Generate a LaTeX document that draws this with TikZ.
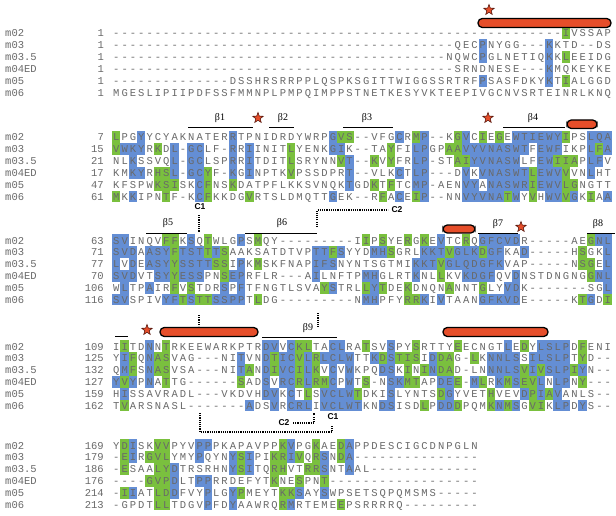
\documentclass[tikz,border=0pt]{standalone}
\usepackage{fontspec}
\setsansfont{Liberation Sans}
\newfontfamily\seqfont{Liberation Mono}
\newfontfamily\betafont{Liberation Serif}
\usetikzlibrary{shapes.geometric}
\definecolor{hlblue}{RGB}{100,142,212}
\definecolor{hlgreen}{RGB}{122,192,62}
\definecolor{seqgray}{RGB}{105,105,105}
\definecolor{barred}{RGB}{230,78,42}
\definecolor{stardark}{RGB}{90,25,15}

\newlength\colw
\setlength\colw{8.33pt}
\def\seqchars#1{\ifx#1\relax\else\makebox[\colw]{#1}\expandafter\seqchars\fi}
\newcommand{\seqtext}[1]{\seqchars#1\relax}
\newcommand{\seqrow}[4]{%
	\draw(5,#3+4) node[seqlab, anchor=base west]{#1};
	\draw(104,#3+4) node[seqlab, anchor=base east]{#2};
	\draw(112,#3+4) node[seqlab, anchor=base west]{\seqtext{#4}};}
\newcommand{\hlcols}[3]{\foreach \c in {#3}{\fill[#1] ({112+(\c-1)*8.33},{#2-5.95}) rectangle +(8.33,11.9);}}

\begin{document}
\begin{tikzpicture}[x=1pt, y=-1pt,
	seqlab/.style={inner sep=0, text=seqgray, font=\seqfont\fontsize{10.5}{12}\selectfont},
	betalab/.style={inner sep=0, font=\betafont\fontsize{10}{12}\selectfont},
	clab/.style={inner sep=0, font=\sffamily\bfseries\fontsize{8.5}{10}\selectfont},
	strand/.style={line width=0.9pt},
	bond/.style={line width=1.7pt, dash pattern=on 1.1pt off 1.1pt},
	helix/.style={fill=barred, draw=black, line width=1.3pt, rounded corners=4.3pt},
	sitestar/.style={star, star points=5, star point ratio=2.4, minimum size=11pt, inner sep=0, fill=barred, draw=stardark, line width=0.6pt}]

	\fill[white] (0,0) rectangle (616,516);
	\useasboundingbox (0,0) rectangle (616,516);

	\hlcols{hlgreen}{33}{55}
	\hlcols{hlblue}{44.9}{45,53}
	\hlcols{hlblue}{56.8}{45,53}
	\hlcols{hlgreen}{56.8}{55}
	\hlcols{hlblue}{68.7}{53}
	\hlcols{hlblue}{80.6}{45,53}
	\hlcols{hlgreen}{80.6}{55}

	\hlcols{hlblue}{137}{4,15,27,35,38,43,49,50,51,52,53,54,58,59,60}
	\hlcols{hlgreen}{137}{1,28,29,37,42,45,47,55}
	\hlcols{hlblue}{148.9}{2,3,4,8,10,11,15,17,27,28,37,38,43,44,45,46,47,48,49,50,52,53,54,58,60}
	\hlcols{hlgreen}{148.9}{1,6,22,34,41,42,59}
	\hlcols{hlblue}{160.8}{3,8,10,11,15,17,29,37,38,44,45,46,47,48,49,52,53,58,59}
	\hlcols{hlgreen}{160.8}{22,28,32,34,42,43,54,55,56}
	\hlcols{hlblue}{172.7}{3,4,8,10,11,15,17,29,35,37,38,43,45,46,47,48,49,50,52,53,54,58}
	\hlcols{hlgreen}{172.7}{6,7,12,22,51,55}
	\hlcols{hlblue}{184.6}{11,29,37,38,43,44,46,47,48,49,50,52,53,54}
	\hlcols{hlgreen}{184.6}{6,7,8,12,15,32,34,51,55,56}
	\hlcols{hlblue}{196.5}{3,11,27,35,38,43,44,45,46,47,49,53,54,56,60}
	\hlcols{hlgreen}{196.5}{1,7,12,17,33,37,48,51,55,58}

	\hlcols{hlblue}{240}{1,2,10,16,40,45,46,47,48,49,59,60}
	\hlcols{hlgreen}{240}{7,8,12,18,31,33,36,38,43,58}
	\hlcols{hlblue}{251.9}{1,2,3,5,6,7,9,10,11,13,25,26,28,32,33,38,39,40,42,43,44,46,47,50,60}
	\hlcols{hlgreen}{251.9}{8,12,14,27,34,41,45,57}
	\hlcols{hlblue}{263.8}{1,3,5,6,7,9,10,11,12,16,25,26,27,37,38,39,41,42,43,44,45,46,47,60}
	\hlcols{hlgreen}{263.8}{8,13,14,18,40,57,58}
	\hlcols{hlblue}{275.7}{1,2,3,6,7,9,10,11,15,16,25,31,32,37,43,44,45,46,49,59,60}
	\hlcols{hlgreen}{275.7}{8,14,40,58}
	\hlcols{hlblue}{287.6}{2,5,14,16,27,32,48,49,60}
	\hlcols{hlgreen}{287.6}{8,10,26,31,33,36,41,45}
	\hlcols{hlblue}{299.5}{1,2,7,8,10,13,14,15,16,31,32,38,40,45,46,47,48,49,58}
	\hlcols{hlgreen}{299.5}{9,11,12,18,36,37,57,60}

	\hlcols{hlblue}{346}{5,19,20,22,27,28,34,48,52,53,54,55}
	\hlcols{hlgreen}{346}{2,7,23,24,31,37,42,50,57}
	\hlcols{hlblue}{357.9}{2,5,16,19,21,22,24,26,27,28,29,32,34,39,46,47,48,49,51,52,53,54,55}
	\hlcols{hlgreen}{357.9}{3,6,7,20,23,25,33,35,36,37,40,41,44,57}
	\hlcols{hlblue}{369.8}{2,5,16,19,21,22,24,27,29,33,34,39,46,47,48,49,51,53,54,55,57}
	\hlcols{hlgreen}{369.8}{3,6,7,17,20,23,25,36,38,40,41,50,52,56}
	\hlcols{hlblue}{381.7}{1,3,5,19,21,22,24,27,29,34,35,40,41,44,47,49,52,54,55}
	\hlcols{hlgreen}{381.7}{2,7,16,23,25,26,31,36,37,42,45,48,50,51,57}
	\hlcols{hlblue}{393.6}{2,19,20,22,26,27,28,29,34,41,50,52,54}
	\hlcols{hlgreen}{393.6}{24,30,40,46,51,53}
	\hlcols{hlblue}{405.5}{17,20,22,23,24,26,27,28,29,30,33,34,40,41,47,49,54,55,57}
	\hlcols{hlgreen}{405.5}{2,38,42,46,48,51,52}

	\hlcols{hlblue}{445}{3,11,12,22,29}
	\hlcols{hlgreen}{445}{2,6,7,21,25,28}
	\hlcols{hlblue}{456.9}{3,11,15,17,22,26,29}
	\hlcols{hlgreen}{456.9}{2,5,6,7,16,20,21,23,25,28}
	\hlcols{hlblue}{468.8}{8,15,17,26,29}
	\hlcols{hlgreen}{468.8}{2,6,7,16,20,21,24,25}
	\hlcols{hlblue}{480.7}{8,11,12}
	\hlcols{hlgreen}{480.7}{5,6,7,20,23,26}
	\hlcols{hlblue}{492.6}{3,8,12,15,23,26}
	\hlcols{hlgreen}{492.6}{2,6,7,16,21,22}
	\hlcols{hlblue}{504.5}{12,15,22}
	\hlcols{hlgreen}{504.5}{6,7,21,28}

	\seqrow{m02}{1}{33}{------------------------------------------------------IVSSAP}
	\seqrow{m03}{1}{44.9}{-----------------------------------------QECPNYGG---KKTD--DS}
	\seqrow{m03.5}{1}{56.8}{----------------------------------------NQWCPGLNETIQKKLEEIDG}
	\seqrow{m04ED}{1}{68.7}{-----------------------------------------SRNDNESE---KMQKEYKE}
	\seqrow{m05}{1}{80.6}{--------------DSSHRSRRPPLQSPKSGITTWIGGSSRTRFPSASFDKYKTIALGGD}
	\seqrow{m06}{1}{92.5}{MGESLIPIIPDFSSFMMNPLPMPQIMPPSTNETKESYVKTEEPIVGCNVSRTEINRLKNQ}

	\seqrow{m02}{7}{137}{LPGYYCYAKNATERRTPNIDRDYWRPGVS--VFGCRMP--KGVCIEGEWTIEWYIPSLQA}
	\seqrow{m03}{15}{148.9}{VWKYRKDL-GCLF-RRIINITLYENKGIK--TAYFILPGPAAVYVNASWTFEWFIKPLFA}
	\seqrow{m03.5}{21}{160.8}{NLKSSVQL-GCLSPRRITDITLSRYNNVT--KVYFRLP-STAIYVNASWLFEWIIAPLFV}
	\seqrow{m04ED}{17}{172.7}{KMKYRHSL-GCYF-KGINPTKVPSSDPRT--VLKCTLP---DVKVNASWTLEWVVVNLHT}
	\seqrow{m05}{47}{184.6}{KFSPWKSISKCFNSKDATPFLKKSVNQKTGDKTFTCMP-AENVYANASWRIEWVLGNGTT}
	\seqrow{m06}{61}{196.5}{MKKIPNTF-KCFKKDGVRTSLDMQTTGEK--RFACEIP--NNVYVNATWYVHWVVGKIAA}

	\seqrow{m02}{63}{240}{SVINQVFFKSQTWLGPSMQY---------IIPSYERGKEVTCRQGFCVDR-----AEGNL}
	\seqrow{m03}{71}{251.9}{SVDAASYFTSTTTSAAKSATDTVPTTFSYYDMHSGRLKKTVGLKDGFKAD-----HSGKL}
	\seqrow{m03.5}{77}{263.8}{LVDEASYYSSTTSSIPKMSKFNAPIFSNYNTSGTMIKKTVGLQDGFKVAP-----NSGEL}
	\seqrow{m04ED}{70}{275.7}{SVDVTSYYESSPNSEPRFLR---AILNFTPMHGLRTKNLLKVKDGFQVDNSTDNGNGGNL}
	\seqrow{m05}{106}{287.6}{WLTPAIRFVSTDRSPFTFNGTLSVAYSTRLLYTDEKDNQNANNTGLYVDK-------SGL}
	\seqrow{m06}{116}{299.5}{SVSPIVYFTSTTSSPPTLDG---------NMHPFYRRKIVTAANGFKVDE-----KTGDI}

	\seqrow{m02}{109}{346}{IITDNNTRKEEWARKPTRDVVCKLTACLRATSVSPYSRTTYEECNGTLEDYLSLPDFENI}
	\seqrow{m03}{125}{357.9}{YIFQNASVAG---NITVNDTICVLRLCLWTTKDSTISIDDAG-LKNNLSSILSLPTYD--}
	\seqrow{m03.5}{132}{369.8}{QMFSNASVSA---NITANDIVCILKVCVWKPQDSKININDAD-LNNNLSVIVSLPIYN--}
	\seqrow{m04ED}{127}{381.7}{YVYPNATTG------SADSVRCRLRMCPWTS-NSKMTAPDEE-MLRKMSEVLNLPNY---}
	\seqrow{m05}{159}{393.6}{HISSAVRADL---VKDVHDVKCTLSVCLWTDKISLYNTSDGYVETHVEVDPIAVANLS--}
	\seqrow{m06}{162}{405.5}{TVARSNASL-------ADSVRCRLIVCLWTKNDSISDLPDDDPQMKNMSGVIKLPDYS--}

	\seqrow{m02}{169}{445}{YDISKVVPYVPPPKAPAVPPKVPGKAEDAPPDESCIGCDNPGLN}
	\seqrow{m03}{179}{456.9}{-EIRGVLYMYPQYNYSIPIKRIVQRSNDA---------------}
	\seqrow{m03.5}{186}{468.8}{-ESAALYDTRSRHNYSITQRHVTRRSNTAAL-------------}
	\seqrow{m04ED}{176}{480.7}{----GVPDLTPPRRDEFYTKNESPNT------------------}
	\seqrow{m05}{214}{492.6}{-IIATLDDFVYPLGYPMEYTKKSAYSWPSETSQPQMSMS-----}
	\seqrow{m06}{213}{504.5}{-GPDTLLTDGVPFDYAAWRQRMRTEMEEPSRRRRQ---------}

	\draw(489,10) node[sitestar]{};
	\draw[helix] (478,18.5) rectangle (611,27.5);

	\draw(220,118) node[betalab]{β1};
	\draw(283,118) node[betalab]{β2};
	\draw(367,118) node[betalab]{β3};
	\draw(533,118) node[betalab]{β4};
	\draw[strand] (188,127) -- (253,127);
	\draw[strand] (269,127) -- (294,127);
	\draw[strand] (343,127) -- (393,127);
	\draw[strand] (503,127) -- (565,127);
	\draw(258,118) node[sitestar]{};
	\draw(488,118) node[sitestar]{};
	\draw[helix] (567,120) rectangle (597,128.5);

	\draw(200,207) node[clab]{C1};
	\draw[bond] (199,215) -- (199,232);
	\draw[bond] (317,227) -- (317,210) -- (388,210);
	\draw(397,210) node[clab]{C2};
	\draw(168,223) node[betalab]{β5};
	\draw(282,223) node[betalab]{β6};
	\draw(498,224) node[betalab]{β7};
	\draw(598,224) node[betalab]{β8};
	\draw[strand] (146,233) -- (187,233);
	\draw[strand] (245,233) -- (317,233);
	\draw[strand] (478,233) -- (518,233);
	\draw[strand] (587,233) -- (615,233);
	\draw(521,227) node[sitestar]{};
	\draw[helix] (443,225) rectangle (475,233);

	\draw[bond] (199,315) -- (199,326);
	\draw[bond] (318,313) -- (318,328);
	\draw[strand] (115,336) -- (128,336);
	\draw(147,330) node[sitestar]{};
	\draw[helix] (160,327.5) rectangle (258,336.5);
	\draw(308,328) node[betalab]{β9};
	\draw[strand] (262,337) -- (337,337);
	\draw[helix] (443,327.5) rectangle (548,336.5);

	\draw[bond] (200,413) -- (200,432) -- (332,432) -- (332,425);
	\draw(333,417) node[clab]{C1};
	\draw(284,423) node[clab]{C2};
	\draw[bond] (293,423) -- (314,423) -- (314,413);

\end{tikzpicture}
\end{document}
